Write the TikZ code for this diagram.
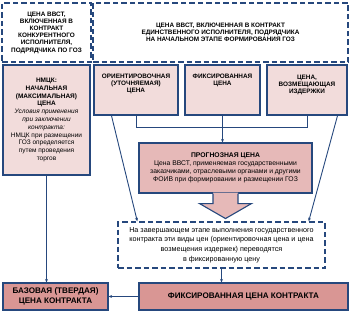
\documentclass[tikz,border=0pt]{standalone}
\usepackage{fontspec}
\setmainfont{Liberation Sans}
\usepackage{xcolor}
\usetikzlibrary{
    positioning,
    arrows.meta,
    calc,
}
\definecolor{frameblue}{RGB}{38,72,125}
\definecolor{pinklight}{RGB}{242,220,219}
\definecolor{pinkmid}{RGB}{230,185,184}
\definecolor{pinkdark}{RGB}{217,150,148}
\newcommand{\fsz}[2]{\fontsize{#1}{#2}\selectfont}
\tikzset{
    % Box styles
    dashbox/.style={rectangle, draw=frameblue, line width=1.4pt,
                    dash pattern=on 5.5pt off 3pt, inner sep=0pt, align=center},
    pricebox/.style={rectangle, draw=frameblue, line width=1.1pt,
                     fill=pinklight, inner sep=0pt, align=center},
    forecastbox/.style={pricebox, fill=pinkmid},
    resultbox/.style={pricebox, fill=pinkdark, font=\fsz{8.1}{9.6}\bfseries},
    % Text styles
    capstext/.style={font=\fsz{6.4}{7.2}\bfseries, align=center, inner sep=0pt},
    smalltext/.style={font=\fsz{6.5}{7.8}},
    % Arrow styles
    arrow/.style={-{Stealth[length=3.5pt, width=3pt]}, draw=frameblue, line width=0.9pt},
    link/.style={draw=frameblue, line width=0.9pt},
}

\begin{document}
\begin{tikzpicture}[x=1pt, y=-1pt]
    \useasboundingbox (0,0) rectangle (350,313);

    % Top dashed frames
    \node[dashbox, capstext, minimum width=89pt, minimum height=59pt] (compet) at (46.5,32.5)
        {ЦЕНА ВВСТ,\\ВКЛЮЧЕННАЯ В\\КОНТРАКТ\\КОНКУРЕНТНОГО\\ИСПОЛНИТЕЛЯ,\\ПОДРЯДЧИКА ПО ГОЗ};
    \node[dashbox, capstext, minimum width=255pt, minimum height=59pt] (single) at (220.5,32.5)
        {ЦЕНА ВВСТ, ВКЛЮЧЕННАЯ В КОНТРАКТ\\ЕДИНСТВЕННОГО ИСПОЛНИТЕЛЯ, ПОДРЯДЧИКА\\НА НАЧАЛЬНОМ ЭТАПЕ ФОРМИРОВАНИЯ ГОЗ};

    % Left column
    \node[pricebox, smalltext, minimum width=87pt, minimum height=110pt] (nmck) at (46.5,120)
        {\textbf{НМЦК:}\\\textbf{НАЧАЛЬНАЯ}\\\textbf{(МАКСИМАЛЬНАЯ)}\\\textbf{ЦЕНА}\\
         \textit{Условия применения}\\\textit{при заключении}\\\textit{контракта:}\\
         НМЦК при размещении\\ГОЗ определяется\\путем проведения\\торгов};

    % Price kinds
    \node[pricebox, minimum width=84pt, minimum height=50pt] (orient) at (136,90) {};
    \node[pricebox, minimum width=75pt, minimum height=50pt] (fixed) at (222.5,90) {};
    \node[pricebox, minimum width=80pt, minimum height=50pt] (cost) at (307,90) {};
    \node[capstext, anchor=north] (orienttext) at ([yshift=-9pt]orient.north)
        {ОРИЕНТИРОВОЧНАЯ\\(УТОЧНЯЕМАЯ)\\ЦЕНА};
    \node[capstext, anchor=north] (fixedtext) at ([yshift=-9pt]fixed.north)
        {ФИКСИРОВАННАЯ\\ЦЕНА};
    \node[capstext, anchor=north] (costtext) at ([yshift=-10pt]cost.north)
        {ЦЕНА,\\ВОЗМЕЩАЮЩАЯ\\ИЗДЕРЖКИ};

    % Forecast price
    \node[forecastbox, smalltext, font=\fsz{6.8}{7.9}, minimum width=173pt, minimum height=50pt] (forecast) at (225.5,168)
        {\textbf{ПРОГНОЗНАЯ ЦЕНА}\\Цена ВВСТ, применяемая государственными\\
         заказчиками, отраслевыми органами и другими\\ФОИВ при формировании и размещении ГОЗ};

    % Final stage
    \node[dashbox, font=\fsz{7.2}{9.6}, minimum width=207pt, minimum height=46pt] (final) at (221.5,245)
        {На завершающем этапе выполнения государственного\\
         контракта эти виды цен (ориентировочная цена и цена\\
         возмещения издержек) переводятся\\в фиксированную цену};

    % Contract prices
    \node[resultbox, minimum width=105pt, minimum height=27pt] (base) at (55.5,296.5)
        {БАЗОВАЯ (ТВЕРДАЯ)\\ЦЕНА КОНТРАКТА};
    \node[resultbox, minimum width=209pt, minimum height=27pt] (fixprice) at (243.5,296.5)
        {ФИКСИРОВАННАЯ ЦЕНА КОНТРАКТА};

    % Block arrow
    \coordinate (fc) at (forecast.south);
    \fill[pinkmid] ($(fc)+(-12.5,-1)$) -- ($(fc)+(-12.5,10)$) -- ($(fc)+(-26,10)$)
        -- ($(fc)+(0,25)$) -- ($(fc)+(26,10)$) -- ($(fc)+(12.5,10)$) -- ($(fc)+(12.5,-1)$) -- cycle;
    \draw[frameblue, line width=1.1pt] ($(fc)+(-12.5,0)$) -- ($(fc)+(-12.5,10)$) -- ($(fc)+(-26,10)$)
        -- ($(fc)+(0,25)$) -- ($(fc)+(26,10)$) -- ($(fc)+(12.5,10)$) -- ($(fc)+(12.5,0)$);

    % Connectors
    \draw[link] (orient.south) -- ++(0,12) -| (cost.south);
    \draw[arrow] (fixed.south) -- (fixed.south |- forecast.north);
    \draw[arrow] ([xshift=18pt]orient.south west) -- ([xshift=20pt]final.north west);
    \draw[arrow] ([xshift=-10pt]cost.south east) -- ([xshift=-17pt]final.north east);
    \draw[arrow] (nmck.south) -- (nmck.south |- base.north);
    \draw[arrow] (final.south) -- (final.south |- fixprice.north);
    \draw[arrow] (fixprice.west) -- (base.east);
\end{tikzpicture}
\end{document}
